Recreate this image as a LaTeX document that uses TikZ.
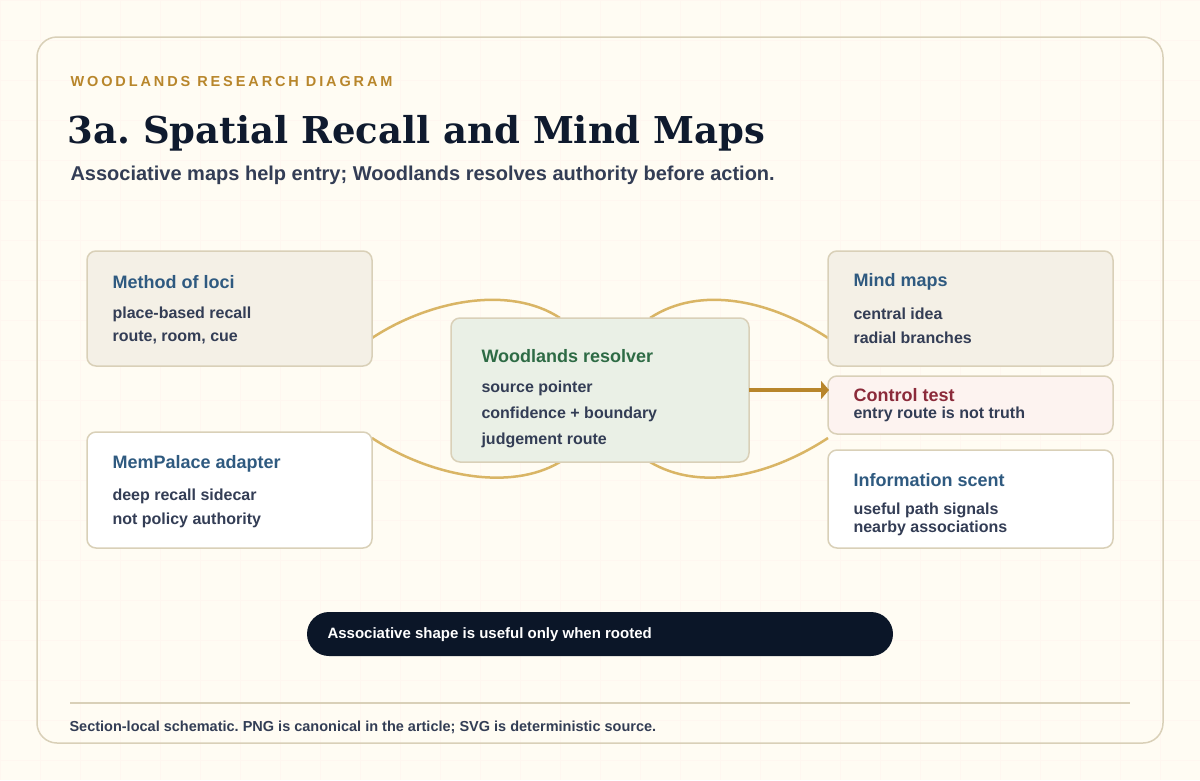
\documentclass[tikz,border=0pt]{standalone}
\usepackage{fontspec}
\setmainfont{Liberation Sans}
\newfontfamily\titlefont{DejaVu Serif}
\usetikzlibrary{arrows.meta}
\definecolor{bg}{HTML}{FFFCF3}
\definecolor{frame}{HTML}{D9D0B8}
\definecolor{gold}{HTML}{B8862B}
\definecolor{curve}{HTML}{D9B565}
\definecolor{ink}{HTML}{0F1A2E}
\definecolor{sub}{HTML}{333D55}
\definecolor{bluet}{HTML}{2F5A80}
\definecolor{greent}{HTML}{2E6B45}
\definecolor{redt}{HTML}{8B2A3A}
\definecolor{beige}{HTML}{F4F0E6}
\definecolor{sage}{HTML}{EAF0E6}
\definecolor{pink}{HTML}{FDF3F0}
\definecolor{pill}{HTML}{0B1628}
\frenchspacing
\begin{document}
\begin{tikzpicture}[x=1pt,y=-1pt,
  box/.style={draw=frame,line width=1.5pt,rounded corners=9pt},
  ttl/.style={anchor=west,font=\bfseries\fontsize{18}{20}\selectfont},
  txt/.style={anchor=west,font=\bfseries\fontsize{16}{18}\selectfont,text=sub},
  link/.style={draw=curve,line width=2.5pt}]
\useasboundingbox (0,0) rectangle (1200,780);
\fill[bg] (0,0) rectangle (1200,780);
\foreach \i in {0,40,...,1200} \draw[orange!6,line width=0.5pt] (\i,0)--(\i,780);
\foreach \i in {0,40,...,780} \draw[orange!6,line width=0.5pt] (0,\i)--(1200,\i);
\draw[frame,line width=1.5pt,rounded corners=20pt] (37,37) rectangle (1163,743);
\node[anchor=west,text=gold,font=\bfseries\fontsize{14.5}{16}\selectfont] (kick) at (67,82) {\addfontfeature{LetterSpace=20}WOODLANDS RESEARCH DIAGRAM};
\node[anchor=west,text=ink,font=\titlefont\bfseries\fontsize{37}{42}\selectfont] (title) at (64,133) {3a. Spatial Recall and Mind Maps};
\node[anchor=west,text=sub,font=\bfseries\fontsize{20}{22}\selectfont] (subt) at (67,175) {Associative maps help entry; Woodlands resolves authority before action.};
% curves
\draw[link] (372,338) .. controls (430,300) and (510,285) .. (560,318);
\draw[link] (650,318) .. controls (700,285) and (770,300) .. (828,338);
\draw[link] (372,438) .. controls (430,476) and (510,492) .. (560,462);
\draw[link] (650,462) .. controls (700,492) and (770,476) .. (828,438);
% boxes
\draw[box,fill=beige] (87,251) rectangle (372,366);
\node[ttl,text=bluet] (loci) at (109,282) {Method of loci};
\node[txt] (l1) at (109,314) {place-based recall};
\node[txt] (l2) at (109,338) {route, room, cue};
\draw[box,fill=white] (87,432) rectangle (372,548);
\node[ttl,text=bluet] (mem) at (109,464) {MemPalace adapter};
\node[txt] (m1) at (109,496) {deep recall sidecar};
\node[txt] (m2) at (109,520) {not policy authority};
\draw[box,fill=sage] (451,318) rectangle (749,462);
\node[ttl,text=greent] (res) at (478,356) {Woodlands resolver};
\node[txt] (r1) at (478,388) {source pointer};
\node[txt] (r2) at (478,414) {confidence + boundary};
\node[txt] (r3) at (478,440) {judgement route};
\draw[box,fill=beige] (828,251) rectangle (1113,366);
\node[ttl,text=bluet] (mind) at (850,282) {Mind maps};
\node[txt] (d1) at (850,314) {central idea};
\node[txt] (d2) at (850,338) {radial branches};
\draw[box,fill=pink] (828,376) rectangle (1113,434);
\node[ttl,text=redt] (ctl) at (850,395) {Control test};
\node[txt] (c1) at (850,414) {entry route is not truth};
\draw[box,fill=white] (828,450) rectangle (1113,548);
\node[ttl,text=bluet] (scent) at (850,480) {Information scent};
\node[txt] (s1) at (850,510) {useful path signals};
\node[txt] (s2) at (850,528) {nearby associations};
\coordinate (aS) at (749,390); \coordinate (aE) at (829,390);
\draw[gold,line width=4pt,-{Triangle[length=8pt,width=18pt]}] (aS) -- (aE);
\fill[pill,rounded corners=22pt] (307,612) rectangle (893,656);
\node[anchor=west,text=white,font=\bfseries\fontsize{15}{17}\selectfont] (pl) at (324,635) {Associative shape is useful only when rooted};
\draw[frame,line width=1.5pt] (70,703) -- (1130,703);
\node[anchor=west,text=sub,font=\bfseries\fontsize{14.5}{16}\selectfont] (foot) at (66,727) {Section-local schematic. PNG is canonical in the article; SVG is deterministic source.};
\end{tikzpicture}
\end{document}
